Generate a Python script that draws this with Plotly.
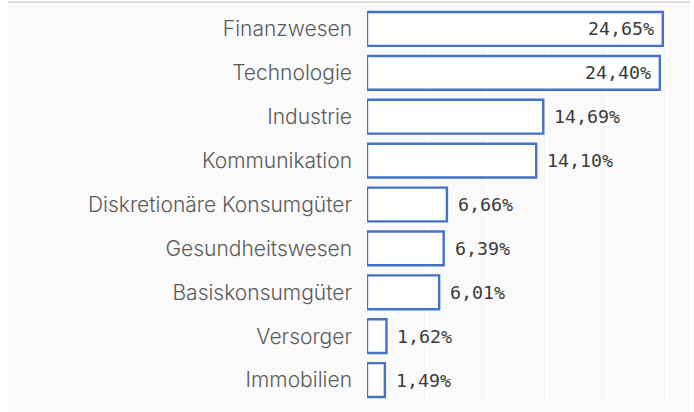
import plotly.graph_objects as go

# Sector weights (%)
sectors = [
    "Finanzwesen", "Technologie", "Industrie", "Kommunikation",
    "Diskretionäre Konsumgüter", "Gesundheitswesen", "Basiskonsumgüter",
    "Versorger", "Immobilien",
]
weights = [24.65, 24.40, 14.69, 14.10, 6.66, 6.39, 6.01, 1.62, 1.49]
inside_label = [True, True, False, False, False, False, False, False, False]

W, H = 694, 412
L, R, T, B = 367, 4, 7, 10

labels = [f"{v:.2f}%".replace(".", ",") for v in weights]

fig = go.Figure(
    go.Bar(
        y=sectors,
        x=weights,
        orientation="h",
        width=0.77,
        marker=dict(color="#ffffff", line=dict(color="#4472c4", width=2.4)),
        customdata=labels,
        hovertemplate="%{y}: %{customdata}<extra></extra>",
    )
)

# value labels: inside the end of long bars, just right of short ones
for name, v, txt, inside in zip(sectors, weights, labels, inside_label):
    fig.add_annotation(
        x=v, y=name, xref="x", yref="y", text=txt, showarrow=False,
        xanchor="right" if inside else "left",
        xshift=-7 if inside else 9,
        font=dict(family="DejaVu Sans Mono", size=18.3, color="#3a3a3a"),
    )

# panel background and top rule, in paper coordinates
pw = W - L - R
ph = H - T - B
def px_x(p):
    return (p - L) / pw
def px_y(p):
    return (H - B - p) / ph

fig.add_shape(type="rect", xref="paper", yref="paper",
              x0=px_x(8), x1=px_x(690), y0=px_y(H + 5), y1=px_y(2),
              fillcolor="#fafafa", line=dict(width=0), layer="below")
fig.add_shape(type="line", xref="paper", yref="paper",
              x0=px_x(8), x1=px_x(690), y0=px_y(2), y1=px_y(2),
              line=dict(color="#d4d4d4", width=1.5), layer="below")

fig.update_layout(
    width=W, height=H,
    margin=dict(l=L, r=R, t=T, b=B),
    paper_bgcolor="#ffffff",
    plot_bgcolor="rgba(0,0,0,0)",
    showlegend=False,
)
fig.update_xaxes(range=[0, (W - L - R) / 12.0], dtick=5, showgrid=True,
                 gridcolor="#ffffff", gridwidth=1.5, zeroline=False,
                 showticklabels=False, ticks="", fixedrange=True)
fig.update_yaxes(autorange="reversed", showgrid=False, zeroline=False,
                 ticks="", ticklabelstandoff=14,
                 tickfont=dict(family="Inter", size=21, weight=300,
                               color="#5a5a5a"))

fig.write_html("out.html")
